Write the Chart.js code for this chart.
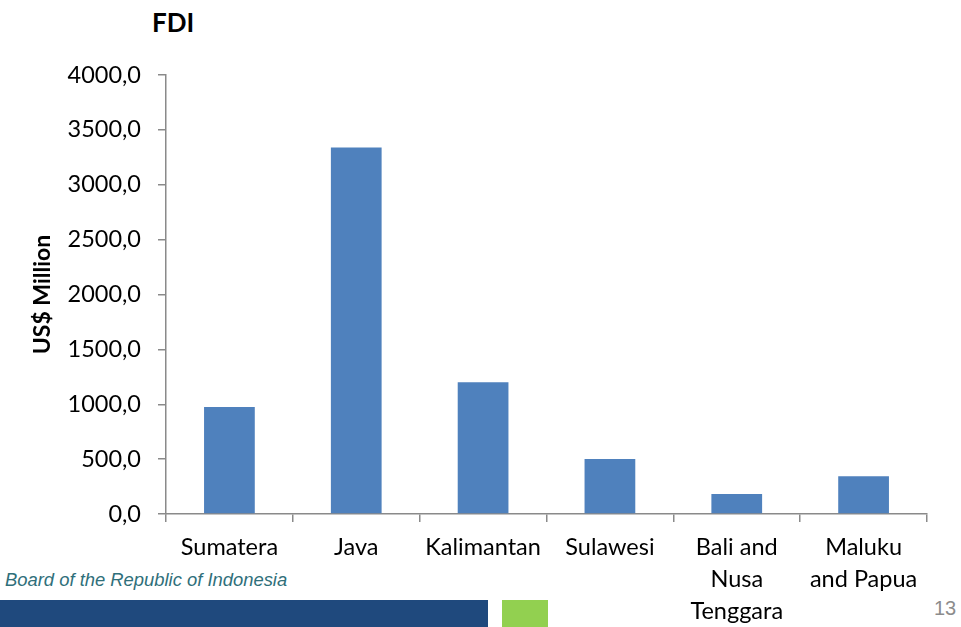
<!DOCTYPE html>
<html>
<head>
<meta charset="utf-8">
<script src="https://cdn.jsdelivr.net/npm/chart.js@4"></script>
<style>
  html,body{margin:0;padding:0;background:#fff;}
  #wrap{position:relative;width:961px;height:627px;overflow:hidden;background:#fff;}
  #c{position:absolute;left:0;top:0;}
  .t{position:absolute;white-space:nowrap;}
  #fdi{left:152px;top:6px;font:bold 26px Lato, sans-serif;color:#000;}
  #foot{left:5px;top:569px;font:italic 18.4px "Liberation Sans", Arial, sans-serif;color:#2f6f7a;}
  #page{left:934px;top:597px;font:20px "Liberation Sans", Arial, sans-serif;color:#8c8c8c;}
  #blue{position:absolute;left:0;top:600px;width:488px;height:27px;background:#1f497d;}
  #green{position:absolute;left:502px;top:600px;width:46px;height:27px;background:#92d050;}
</style>
</head>
<body>
<div id="wrap">
  <div id="blue"></div>
  <div id="green"></div>
  <div class="t" id="fdi">FDI</div>
  <div class="t" id="foot">Board of the Republic of Indonesia</div>
  <div class="t" id="page">13</div>
  <canvas id="c" width="961" height="627"></canvas>
</div>
<script>
const categories = [
  'Sumatera',
  'Java',
  'Kalimantan',
  'Sulawesi',
  ['Bali and', 'Nusa', 'Tenggara'],
  ['Maluku', 'and Papua']
];
const fdiValues = [976, 3340, 1201, 501, 182, 344];
const yTickValues = [0, 500, 1000, 1500, 2000, 2500, 3000, 3500, 4000];
const yTickLabels = ['0,0', '500,0', '1000,0', '1500,0', '2000,0', '2500,0', '3000,0', '3500,0', '4000,0'];
const yAxisTitle = 'US$ Million';

const axisGray = '#8a8a8a';

new Chart(document.getElementById('c'), {
  type: 'bar',
  data: {
    labels: categories,
    datasets: [{
      data: fdiValues,
      backgroundColor: '#4f81bd',
      borderWidth: 0,
      barPercentage: 0.4,
      categoryPercentage: 1.0
    }]
  },
  options: {
    responsive: false,
    animation: false,
    devicePixelRatio: 1,
    layout: { padding: { top: 75, right: 34, bottom: 0, left: 0 } },
    plugins: { legend: { display: false }, tooltip: { enabled: false }, title: { display: false } },
    scales: {
      x: {
        offset: true,
        grid: { offset: true, drawOnChartArea: false, drawTicks: true, tickLength: 8, color: axisGray, lineWidth: 1.5 },
        border: { display: true, color: axisGray, width: 1.5 },
        ticks: { color: '#000', font: { family: 'Lato, sans-serif', size: 23.5, lineHeight: 1.37 }, padding: 9, maxRotation: 0, autoSkip: false },
        afterFit: (s) => { s.height = 113; }
      },
      y: {
        min: 0,
        max: 4000,
        afterBuildTicks: (s) => { s.ticks = yTickValues.map(v => ({ value: v })); },
        grid: { drawOnChartArea: false, drawTicks: true, tickLength: 8, color: axisGray, lineWidth: 1.5 },
        border: { display: true, color: axisGray, width: 1.5 },
        ticks: {
          color: '#000',
          font: { family: 'Lato, sans-serif', size: 23.5 },
          padding: 17,
          callback: (v) => { const i = yTickValues.indexOf(v); return i >= 0 ? yTickLabels[i] : ''; }
        },
        title: {
          display: true,
          text: yAxisTitle,
          color: '#000',
          font: { family: 'Lato, sans-serif', size: 23, weight: 'bold' },
          padding: { top: 29, bottom: 0 }
        },
        afterFit: (s) => { s.width = 166; }
      }
    }
  }
});
</script>
</body>
</html>
